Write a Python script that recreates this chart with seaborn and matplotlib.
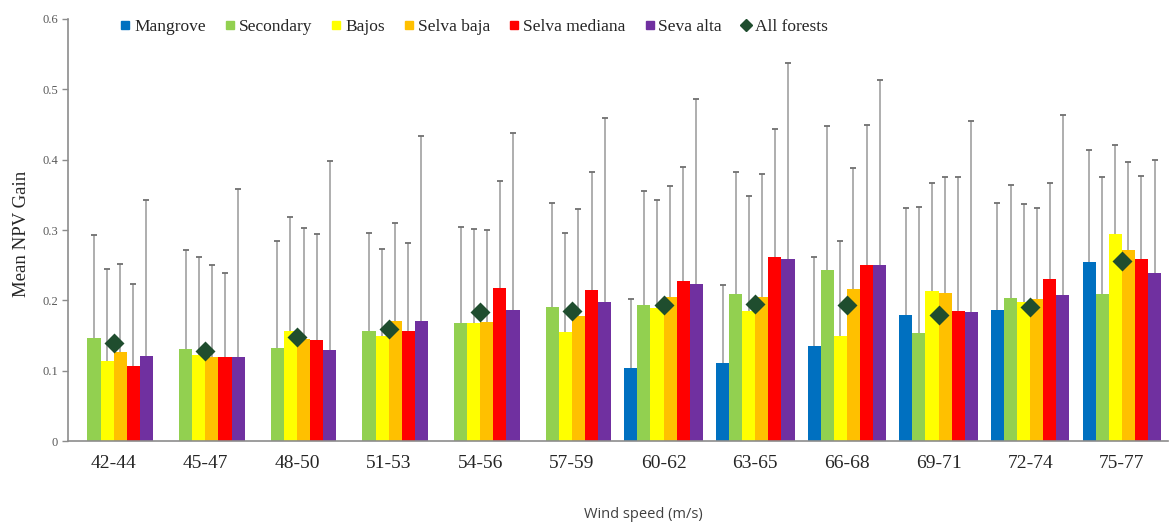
import numpy as np
import pandas as pd
import matplotlib.pyplot as plt
import seaborn as sns
from matplotlib.lines import Line2D

# data
categories = ['42-44', '45-47', '48-50', '51-53', '54-56', '57-59',
              '60-62', '63-65', '66-68', '69-71', '72-74', '75-77']
forests = ['Mangrove', 'Secondary', 'Bajos', 'Selva baja', 'Selva mediana', 'Seva alta']
nan = np.nan

mangrove = [nan, nan, nan, nan, nan, nan, 0.104, 0.111, 0.135, 0.179, 0.186, 0.255]
secondary = [0.147, 0.131, 0.132, 0.157, 0.168, 0.190, 0.193, 0.209, 0.243, 0.154, 0.204, 0.209]
bajos = [0.114, 0.122, 0.156, 0.149, 0.168, 0.155, 0.189, 0.185, 0.149, 0.214, 0.198, 0.295]
selva_baja = [0.126, 0.119, 0.145, 0.171, 0.169, 0.178, 0.205, 0.205, 0.216, 0.210, 0.202, 0.272]
selva_mediana = [0.107, 0.120, 0.143, 0.157, 0.217, 0.215, 0.228, 0.262, 0.251, 0.185, 0.230, 0.259]
seva_alta = [0.121, 0.120, 0.130, 0.171, 0.186, 0.198, 0.223, 0.259, 0.251, 0.183, 0.208, 0.239]
all_forests = [0.140, 0.128, 0.148, 0.159, 0.183, 0.185, 0.193, 0.195, 0.193, 0.179, 0.191, 0.256]

# upper ends of the error bars
mangrove_top = [nan, nan, nan, nan, nan, nan, 0.202, 0.222, 0.262, 0.332, 0.338, 0.414]
secondary_top = [0.293, 0.271, 0.284, 0.296, 0.305, 0.339, 0.355, 0.382, 0.448, 0.333, 0.364, 0.375]
bajos_top = [0.244, 0.261, 0.318, 0.273, 0.302, 0.296, 0.343, 0.349, 0.284, 0.367, 0.337, 0.421]
selva_baja_top = [0.252, 0.250, 0.303, 0.310, 0.300, 0.330, 0.362, 0.380, 0.388, 0.376, 0.332, 0.396]
selva_mediana_top = [0.224, 0.239, 0.295, 0.282, 0.370, 0.382, 0.389, 0.443, 0.450, 0.375, 0.367, 0.377]
seva_alta_top = [0.343, 0.359, 0.398, 0.434, 0.438, 0.459, 0.486, 0.538, 0.513, 0.455, 0.463, 0.399]

colors = ['#0070C0', '#92D050', '#FFFF00', '#FFC000', '#FF0000', '#7030A0']
diamond_color = '#1F4D2E'

means = [mangrove, secondary, bajos, selva_baja, selva_mediana, seva_alta]
tops = [mangrove_top, secondary_top, bajos_top, selva_baja_top, selva_mediana_top, seva_alta_top]
palette = dict(zip(forests, colors))
top_lookup = dict(zip(forests, tops))

rows = []
for name, vals in zip(forests, means):
    for cat, v in zip(categories, vals):
        rows.append({'speed': cat, 'gain': v, 'forest': name})
df = pd.DataFrame(rows).dropna()

sns.set_style('white')
plt.rcParams['font.family'] = ['Liberation Serif', 'DejaVu Serif']

fig = plt.figure(figsize=(11.7, 5.27), dpi=100)
ax = fig.add_axes([0.058, 0.163, 0.94, 0.801])

sns.barplot(data=df, x='speed', y='gain', hue='forest', order=categories,
            hue_order=forests, palette=palette, saturation=1, width=6 / 7,
            errorbar=None, legend=False, linewidth=0, ax=ax)

# upper-only error bars at the bar centres
err_color = '#999999'
for name, cont in zip(forests, ax.containers):
    xs, ys, ends = [], [], []
    for bar in cont:
        cx = bar.get_x() + bar.get_width() / 2
        h = bar.get_height()
        top = top_lookup[name][int(round(cx))]
        if np.isnan(h) or np.isnan(top):
            continue
        xs.append(cx)
        ys.append(h)
        ends.append(top)
    ax.vlines(xs, ys, ends, color=err_color, linewidth=1.1, zorder=3)
    ax.plot(xs, ends, linestyle='none', marker='_', markersize=4.5,
            markeredgewidth=1.3, color='#707070', zorder=3)

sns.pointplot(x=categories, y=all_forests, order=categories, linestyle='none',
              marker='D', color=diamond_color, markersize=8, zorder=5, ax=ax)

ax.set_xlim(-0.5, len(categories) - 0.5)
ax.set_ylim(0, 0.6)
ax.set_yticks([0, 0.1, 0.2, 0.3, 0.4, 0.5, 0.6])
ax.set_yticklabels(['0', '0.1', '0.2', '0.3', '0.4', '0.5', '0.6'])
ax.tick_params(axis='y', labelsize=9, labelcolor='#595959', length=4, width=1,
               color='#8C8C8C', direction='out', left=True, pad=3)
ax.tick_params(axis='x', labelsize=14, labelcolor='#262626', length=0, pad=10)

for side in ['top', 'right']:
    ax.spines[side].set_visible(False)
for side in ['left', 'bottom']:
    ax.spines[side].set_color('#8C8C8C')
    ax.spines[side].set_linewidth(1.2)

ax.set_ylabel('Mean NPV Gain', fontsize=13.5, color='#262626')
ax.yaxis.set_label_coords(-0.034, 0.49)
ax.set_xlabel('Wind speed (m/s)', fontsize=10.5, color='#404040', family=['Open Sans', 'DejaVu Sans'])
ax.xaxis.set_label_coords(0.523, -0.155)

handles = [Line2D([], [], marker='s', linestyle='none', color=c, markersize=6) for c in colors]
handles.append(Line2D([], [], marker='D', linestyle='none', color=diamond_color, markersize=6))
labels = forests + ['All forests']
ax.legend(handles, labels, loc='upper left', bbox_to_anchor=(0.046, 1.0), ncol=7,
          frameon=False, fontsize=12.5, handletextpad=0.1, columnspacing=1.0,
          handlelength=0.8, borderpad=0, borderaxespad=0)

fig.savefig('out.png', dpi=100)
